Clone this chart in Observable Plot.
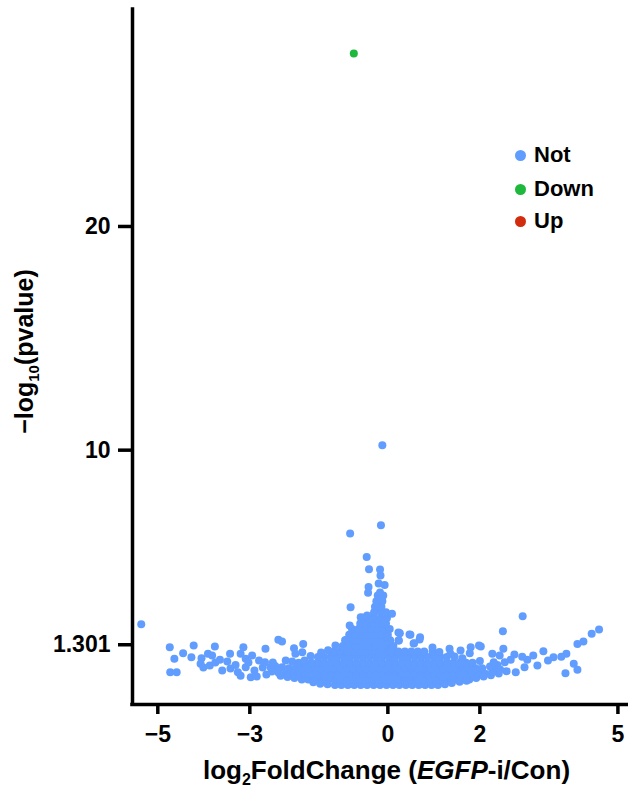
<!DOCTYPE html>
<html>
<head>
<meta charset="utf-8">
<script src="https://cdn.jsdelivr.net/npm/d3@7"></script>
<script src="https://cdn.jsdelivr.net/npm/@observablehq/plot@0.6"></script>
<style>
  html, body { margin: 0; padding: 0; background: #fff; }
  #wrap { position: relative; width: 628px; height: 794px; }
  .lg { position: absolute; display: flex; align-items: center; font: bold 22px "Liberation Sans", Arial, sans-serif; color: #000; }
  .lg .sw { width: 11px; height: 11px; border-radius: 50%; margin-right: 8px; }
</style>
</head>
<body>
<div id="wrap"></div>
<script>
// ---------- data ----------
const groups = ["Not", "Down", "Up"];
const groupColors = ["#619CFF", "#1DB83C", "#D22B0D"];
const xTicks = [-5, -3, 0, 2, 5];
const yTicks = [1.301, 10, 20];
const xDomain = [-5.55, 5.23];
const yDomain = [-1.37, 29.7];

// dense core of non-significant genes, read row by row (y level -> x positions)
const coreRowY = [-0.50, -0.25, 0.00, 0.25, 0.50, 0.75, 1.00, 1.25, 1.50, 1.75, 2.00, 2.25, 2.50, 2.75, 3.00, 3.25, 3.50];
const coreRowX = [
  [-1.15,-1.01,-0.87,-0.73,-0.59,-0.45,-0.31,-0.17,-0.03,0.11,0.25,0.39,0.53,0.67,0.81,0.95,1.09],
  [-1.87,-1.73,-1.59,-1.45,-1.31,-1.17,-1.03,-0.89,-0.75,-0.61,-0.47,-0.33,-0.19,-0.05,0.09,0.23,0.37,0.51,0.65,0.79,0.93,1.07,1.21,1.35,1.49,1.63,1.77],
  [-2.22,-2.08,-1.94,-1.80,-1.66,-1.52,-1.38,-1.24,-1.10,-0.96,-0.82,-0.68,-0.54,-0.40,-0.26,-0.12,0.02,0.16,0.30,0.44,0.58,0.72,0.86,1.00,1.14,1.28,1.42,1.56,1.70,1.84,1.98,2.12],
  [-2.15,-2.01,-1.87,-1.73,-1.59,-1.45,-1.31,-1.17,-1.03,-0.89,-0.75,-0.61,-0.47,-0.33,-0.19,-0.05,0.09,0.23,0.37,0.51,0.65,0.79,0.93,1.07,1.21,1.35,1.49,1.63,1.77,1.91,2.05],
  [-1.94,-1.80,-1.66,-1.52,-1.38,-1.24,-1.10,-0.96,-0.82,-0.68,-0.54,-0.40,-0.26,-0.12,0.02,0.16,0.30,0.44,0.58,0.72,0.86,1.00,1.14,1.28,1.42,1.56,1.70,1.84],
  [-1.52,-1.38,-1.24,-1.10,-0.96,-0.82,-0.68,-0.54,-0.40,-0.26,-0.12,0.02,0.16,0.30,0.44,0.58,0.72,0.86,1.00,1.14,1.28],
  [-1.17,-1.03,-0.89,-0.75,-0.61,-0.47,-0.33,-0.19,-0.05,0.09,0.23,0.37,0.51,0.65,0.79,0.97],
  [-0.98,-0.84,-0.70,-0.56,-0.42,-0.28,-0.14,0.00,0.12],
  [-0.93,-0.79,-0.65,-0.51,-0.37,-0.23,-0.09,0.05],
  [-0.84,-0.70,-0.56,-0.42,-0.28,-0.14,0.00],
  [-0.78,-0.64,-0.50,-0.36,-0.22,-0.08,0.04],
  [-0.60,-0.46,-0.32,-0.18,-0.04],
  [-0.44,-0.30,-0.16,-0.02],
  [-0.30,-0.16,-0.04],
  [-0.28,-0.14],
  [-0.25,-0.12],
  [-0.22,-0.10]
];

// ragged edge of the dense core [log2FC, -log10 p]
const coreEdge = [
  [-1.62,-0.38],[-1.47,-0.44],[-1.31,-0.47],[1.24,-0.46],[1.39,-0.41],[1.56,-0.35],[1.71,-0.31],
  [-2.33,-0.08],[-2.18,-0.14],[-2.03,-0.19],[1.92,-0.19],[2.08,-0.12],[2.24,-0.06],[2.41,0.02],[2.58,0.12],
  [-2.52,0.10],[-2.37,0.04],[2.27,0.10],[2.44,0.20],
  [-2.45,0.35],[-2.30,0.30],[2.22,0.33],[2.38,0.40],
  [-2.08,0.55],[2.00,0.58],[-1.68,0.80],[1.45,0.78],[1.62,0.70],
  [-1.45,0.95],[-1.30,1.06],[1.12,0.98],[-0.05,1.32]
];

// scattered non-significant genes [log2FC, -log10 p]
const notScatter = [
  [-5.36,2.22],[-4.74,1.19],[-4.73,0.07],[-4.59,0.07],[-4.64,0.67],[-4.45,0.92],[-4.27,0.74],[-4.22,1.27],
  [-4.05,0.70],[-4.07,0.45],[-4.01,0.28],[-3.91,0.90],[-3.87,0.37],[-3.76,1.22],[-3.82,0.82],[-3.75,0.51],
  [-3.65,0.63],[-3.60,0.15],[-3.49,0.55],[-3.43,0.90],[-3.42,0.24],[-3.31,0.40],[-3.26,0.07],[-3.20,0.90],
  [-3.20,-0.08],[-3.14,1.19],[-3.09,0.67],[-3.09,0.30],[-3.03,0.51],[-2.98,-0.15],[-2.95,0.82],[-2.90,0.15],
  [-2.85,-0.12],[-2.80,0.60],[-2.72,0.28],[-2.66,1.12],[-2.67,0.52],[-2.64,-0.03],[-2.55,0.30],[-2.50,0.51],
  [-2.38,1.52],[-2.30,1.45],[-2.40,0.15],[-2.22,0.60],[-2.04,1.15],[-2.01,0.90],[-1.84,1.34],[-1.86,0.97],
  [-1.81,0.60],[-1.14,1.27],[-0.90,1.52],[-0.81,2.98],[-0.83,2.16],[-0.59,2.53],[-0.45,2.61],
  [-0.12,10.22],[-0.15,6.64],[-0.82,6.27],[-0.46,5.22],[-0.41,4.68],[-0.17,4.67],[-0.16,4.40],[-0.20,4.04],
  [-0.07,3.97],[-0.42,3.88],[-0.43,3.63],[-0.17,3.64],[-0.14,3.33],[0.09,2.69],[-0.53,2.52],
  [0.23,1.85],[0.47,1.76],[0.69,1.54],[0.23,1.49],[0.56,1.36],[0.97,1.18],
  [2.93,2.57],[2.50,1.91],[4.59,1.98],[4.43,1.79],[4.25,1.45],[4.12,1.34],[3.88,0.90],[3.77,0.77],
  [4.04,0.45],[4.12,0.18],[3.86,0.03],[3.60,0.74],[3.48,0.60],[3.38,1.01],[3.25,0.37],[3.16,0.82],
  [3.03,0.63],[2.97,0.30],[2.92,0.77],[2.75,0.86],[2.78,0.07],[2.67,0.63],[2.51,1.12],[2.54,0.52],
  [2.43,0.82],[2.38,0.30],[2.30,0.52],[2.27,0.90],[2.02,1.22],[1.98,1.27],[1.80,1.19],[1.78,0.92],
  [1.58,1.04],[1.34,1.12],[1.36,0.90],[0.70,1.64],[0.49,1.75],[0.57,1.37],[0.26,1.82],[0.24,1.49]
];

const downPoints = [[-0.74, 27.73]];
const upPoints = [];

// ---------- build table ----------
const genes = [
  ...coreRowY.flatMap((y, i) => coreRowX[i].map(x => ({x, y, group: "Not"}))),
  ...coreEdge.map(([x, y]) => ({x, y, group: "Not"})),
  ...notScatter.map(([x, y]) => ({x, y, group: "Not"})),
  ...downPoints.map(([x, y]) => ({x, y, group: "Down"})),
  ...upPoints.map(([x, y]) => ({x, y, group: "Up"}))
];

const FONT = '"Liberation Sans", Arial, sans-serif';
const fmt = d => d < 0 ? "\u2212" + (-d) : String(d);

const chart = Plot.plot({
  width: 628,
  height: 794,
  marginLeft: 132,
  marginTop: 9,
  marginRight: 0,
  marginBottom: 90,
  style: {fontFamily: FONT, color: "#000", background: "#fff"},
  x: {domain: xDomain, label: null},
  y: {domain: yDomain, label: null},
  color: {domain: groups, range: groupColors},
  marks: [
    Plot.dot(genes, {x: "x", y: "y", fill: "group", r: 4}),
    Plot.ruleX([xDomain[0]], {stroke: "#000", strokeWidth: 3.5, strokeLinecap: "square"}),
    Plot.ruleY([yDomain[0]], {stroke: "#000", strokeWidth: 3.5, strokeLinecap: "square"}),
    Plot.axisX({ticks: xTicks, tickFormat: fmt, tickSize: 10, tickPadding: 11, strokeWidth: 3.5,
      fontSize: 23, fontWeight: "bold", fontFamily: FONT, label: null}),
    Plot.axisY({ticks: yTicks, tickFormat: d => String(d), tickSize: 14, tickPadding: 8, strokeWidth: 3.5,
      fontSize: 23, fontWeight: "bold", fontFamily: FONT, label: null})
  ]
});

const wrap = document.getElementById("wrap");
wrap.appendChild(chart);

// axis titles (with subscript and italic parts)
const svg = d3.select(chart);
const xt = svg.append("text")
  .attr("x", 386.5).attr("y", 779)
  .attr("text-anchor", "middle")
  .attr("font-family", FONT).attr("font-weight", "bold").attr("font-size", 26).attr("fill", "#000");
xt.append("tspan").text("log");
xt.append("tspan").attr("font-size", 16).attr("dy", 6).text("2");
xt.append("tspan").attr("dy", -6).text("FoldChange (");
xt.append("tspan").attr("font-style", "italic").text("EGFP");
xt.append("tspan").text("-i/Con)");

const yt = svg.append("text")
  .attr("transform", "translate(33,351.5) rotate(-90)")
  .attr("text-anchor", "middle")
  .attr("font-family", FONT).attr("font-weight", "bold").attr("font-size", 25).attr("fill", "#000");
yt.append("tspan").text("\u2212log");
yt.append("tspan").attr("font-size", 15).attr("dy", 6).text("10");
yt.append("tspan").attr("dy", -6).text("(pvalue)");

// legend
const legendTop = [155, 189, 221];
groups.forEach((g, i) => {
  const item = document.createElement("div");
  item.className = "lg";
  item.style.left = "515px";
  item.style.top = (legendTop[i] - 14) + "px";
  item.style.height = "28px";
  const sw = document.createElement("span");
  sw.className = "sw";
  sw.style.background = groupColors[i];
  const t = document.createElement("span");
  t.textContent = g;
  item.appendChild(sw);
  item.appendChild(t);
  wrap.appendChild(item);
});
</script>
</body>
</html>
